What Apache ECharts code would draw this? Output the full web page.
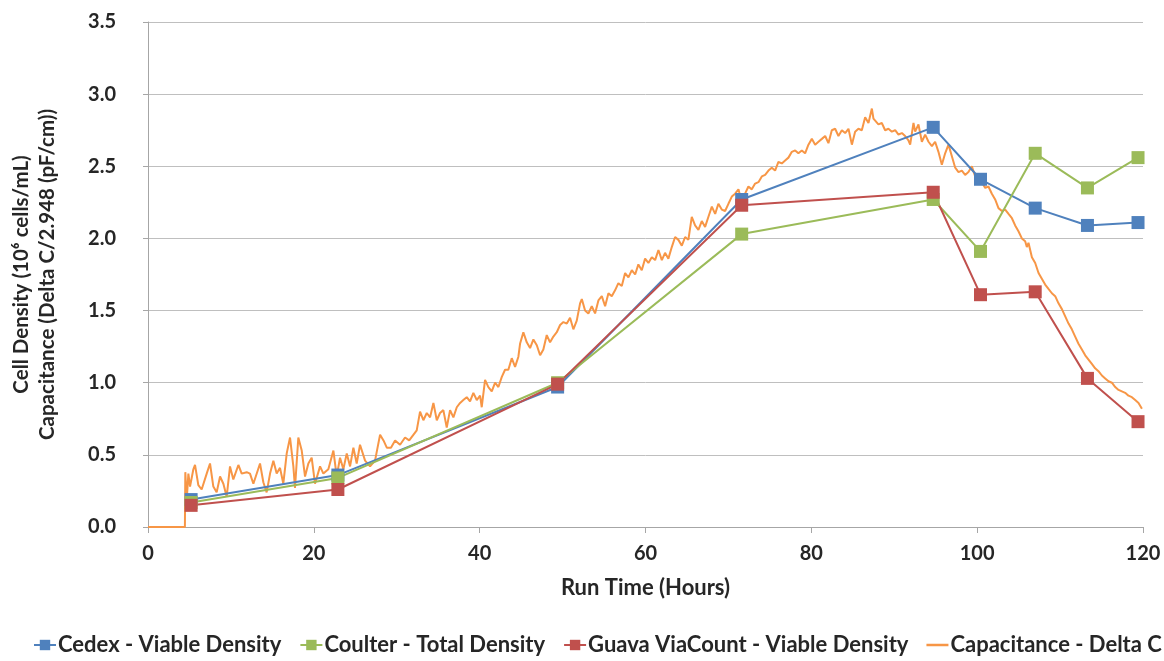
<!DOCTYPE html>
<html>
<head>
<meta charset="utf-8">
<script src="https://cdn.jsdelivr.net/npm/echarts@6/dist/echarts.min.js"></script>
<style>
html,body{margin:0;padding:0;background:#fff;}
#chart{width:1164px;height:661px;}
</style>
</head>
<body>
<div id="chart"></div>
<script>
// Sample times (hours) for the offline counts
const sampleHours = [5.2, 22.9, 49.4, 71.6, 94.7, 100.4, 107.0, 113.3, 119.4];
const cedexViable = [0.19, 0.36, 0.97, 2.27, 2.77, 2.41, 2.21, 2.09, 2.11];
const coulterTotal = [0.17, 0.34, 1.00, 2.03, 2.27, 1.91, 2.59, 2.35, 2.56];
const guavaViable = [0.15, 0.26, 0.99, 2.23, 2.32, 1.61, 1.63, 1.03, 0.73];

// Capacitance online trace (hours, value)
const capHours = [0, 4.45, 4.5, 4.67, 4.87, 5.07, 5.47, 5.67, 6.07, 6.47, 7.08, 7.48, 7.88, 8.28, 8.69, 9.09, 9.49, 9.89, 10.29, 10.9, 11.3, 11.9, 12.3, 12.71, 13.51, 13.91, 14.31, 14.72, 15.12, 15.52, 15.92, 16.32, 16.73, 17.13, 17.53, 17.73, 18.13, 18.54, 18.94, 19.34, 19.74, 20.14, 20.75, 21.15, 21.75, 22.36, 22.76, 23.16, 23.56, 23.97, 24.37, 24.77, 25.17, 25.57, 26.18, 26.78, 27.38, 27.99, 28.4, 28.8, 29.3, 29.8, 30.4, 31.0, 31.5, 32.41, 32.81, 33.21, 33.62, 34.02, 34.42, 34.83, 35.22, 35.62, 36.03, 36.43, 36.83, 37.24, 37.64, 38.03, 38.44, 38.84, 39.24, 39.65, 40.05, 40.25, 40.65, 41.05, 41.46, 41.86, 42.26, 42.67, 43.06, 43.46, 43.87, 44.27, 44.67, 44.87, 45.27, 45.68, 46.08, 46.48, 46.89, 47.29, 47.68, 48.09, 48.49, 48.89, 49.3, 49.7, 50.1, 50.51, 50.9, 51.3, 51.71, 52.11, 52.32, 52.71, 53.11, 53.52, 53.92, 54.32, 54.73, 55.13, 55.53, 55.93, 56.33, 56.73, 57.14, 57.54, 57.94, 58.35, 58.75, 59.14, 59.55, 59.95, 60.35, 60.76, 61.16, 61.56, 61.97, 62.36, 62.76, 63.17, 63.57, 63.97, 64.38, 64.78, 65.17, 65.58, 65.98, 66.38, 66.79, 67.19, 67.59, 68.0, 68.4, 68.79, 69.2, 69.6, 70.0, 70.41, 70.81, 71.21, 71.62, 72.01, 72.41, 72.82, 73.22, 73.62, 74.03, 74.43, 74.83, 75.23, 75.63, 76.03, 76.44, 76.84, 77.24, 77.65, 78.05, 78.44, 78.85, 79.25, 79.65, 80.06, 80.46, 80.86, 81.27, 81.67, 82.06, 82.47, 82.87, 83.27, 83.68, 84.08, 84.48, 84.89, 85.28, 85.68, 86.09, 86.49, 86.89, 87.3, 87.49, 87.7, 88.09, 88.5, 88.9, 89.3, 89.71, 90.11, 90.51, 90.92, 91.31, 91.71, 91.92, 92.32, 92.52, 92.92, 93.33, 93.73, 94.13, 94.54, 94.93, 95.33, 95.74, 96.14, 96.54, 96.95, 97.35, 97.75, 98.15, 98.55, 98.95, 99.36, 99.76, 100.16, 100.57, 100.97, 101.36, 101.77, 102.17, 102.57, 102.98, 103.38, 103.78, 104.19, 104.58, 104.98, 105.39, 105.79, 105.99, 106.19, 106.6, 107.0, 107.4, 107.8, 108.2, 108.6, 109.01, 109.41, 109.81, 110.22, 110.62, 111.02, 111.42, 111.82, 112.22, 112.63, 113.03, 113.43, 113.83, 114.23, 114.63, 115.04, 115.44, 115.84, 116.25, 116.65, 117.05, 117.45, 117.85, 118.25, 118.66, 119.06, 119.46, 119.87];
const capValues = [0, 0, 0.38, 0.19, 0.37, 0.28, 0.40, 0.43, 0.29, 0.26, 0.37, 0.44, 0.28, 0.24, 0.35, 0.30, 0.21, 0.42, 0.33, 0.43, 0.37, 0.38, 0.37, 0.30, 0.44, 0.31, 0.24, 0.37, 0.46, 0.37, 0.41, 0.30, 0.51, 0.62, 0.42, 0.27, 0.62, 0.53, 0.35, 0.44, 0.48, 0.30, 0.42, 0.37, 0.40, 0.53, 0.35, 0.48, 0.40, 0.51, 0.42, 0.55, 0.44, 0.57, 0.46, 0.42, 0.46, 0.64, 0.60, 0.55, 0.55, 0.60, 0.57, 0.62, 0.60, 0.67, 0.80, 0.74, 0.79, 0.76, 0.86, 0.74, 0.79, 0.81, 0.69, 0.81, 0.76, 0.83, 0.86, 0.88, 0.90, 0.87, 0.93, 0.88, 0.91, 0.83, 1.02, 0.97, 0.94, 1.00, 0.97, 1.04, 1.09, 1.09, 1.17, 1.11, 1.18, 1.27, 1.35, 1.28, 1.24, 1.30, 1.26, 1.19, 1.23, 1.33, 1.28, 1.32, 1.35, 1.40, 1.42, 1.41, 1.45, 1.37, 1.43, 1.55, 1.58, 1.50, 1.48, 1.53, 1.48, 1.57, 1.60, 1.53, 1.62, 1.60, 1.64, 1.69, 1.67, 1.76, 1.73, 1.78, 1.75, 1.82, 1.78, 1.86, 1.83, 1.87, 1.85, 1.92, 1.85, 1.90, 1.86, 1.94, 2.01, 1.99, 1.95, 2.01, 1.99, 2.15, 2.09, 2.06, 2.12, 2.08, 2.15, 2.22, 2.17, 2.24, 2.20, 2.19, 2.24, 2.29, 2.31, 2.34, 2.25, 2.31, 2.36, 2.34, 2.38, 2.39, 2.43, 2.44, 2.47, 2.49, 2.47, 2.53, 2.52, 2.54, 2.56, 2.60, 2.61, 2.59, 2.61, 2.59, 2.65, 2.69, 2.65, 2.67, 2.69, 2.71, 2.66, 2.75, 2.76, 2.71, 2.75, 2.73, 2.76, 2.65, 2.74, 2.76, 2.75, 2.84, 2.80, 2.90, 2.83, 2.84, 2.79, 2.80, 2.75, 2.76, 2.74, 2.75, 2.72, 2.73, 2.71, 2.68, 2.65, 2.80, 2.74, 2.79, 2.67, 2.72, 2.67, 2.64, 2.67, 2.60, 2.51, 2.59, 2.65, 2.57, 2.49, 2.46, 2.47, 2.44, 2.46, 2.50, 2.43, 2.42, 2.39, 2.35, 2.36, 2.31, 2.27, 2.21, 2.19, 2.20, 2.17, 2.14, 2.09, 2.05, 2.00, 1.98, 1.94, 1.97, 1.87, 1.83, 1.76, 1.72, 1.68, 1.65, 1.62, 1.60, 1.55, 1.51, 1.46, 1.41, 1.37, 1.32, 1.27, 1.23, 1.19, 1.16, 1.13, 1.10, 1.08, 1.05, 1.03, 1.01, 1.00, 0.97, 0.95, 0.94, 0.93, 0.91, 0.90, 0.88, 0.86, 0.82];

const seriesNames = ['Cedex - Viable Density', 'Coulter - Total Density', 'Guava ViaCount - Viable Density', 'Capacitance - Delta C'];
const xAxisTitle = 'Run Time (Hours)';
const yAxisTitle = 'Cell Density (10\u2076 cells/mL)\nCapacitance (Delta C/2.948 (pF/cm))';

const zip = (xs, ys) => xs.map((x, i) => [x, ys[i]]);
const FONT = 'Lato, "Open Sans", sans-serif';
const TXT = '#262626';

function countSeries(name, vals, color) {
  return {
    name: name, type: 'line', data: zip(sampleHours, vals),
    symbol: 'rect', symbolSize: 13, showSymbol: true,
    lineStyle: { color: color, width: 2 },
    itemStyle: { color: color, borderWidth: 0 },
    z: 3
  };
}

const chart = echarts.init(document.getElementById('chart'), null, { renderer: 'canvas' });
chart.setOption({
  animation: false,
  backgroundColor: '#ffffff',
  grid: { left: 148, right: 21, top: 22, bottom: 134, containLabel: false },
  legend: {
    bottom: 0, left: 28, width: 1400, padding: 5,
    itemWidth: 22, itemHeight: 13, itemGap: 18,
    textStyle: { fontFamily: FONT, fontSize: 22, fontWeight: 'bold', color: TXT, padding: [0, 0, 0, -3] },
    data: [
      { name: seriesNames[0] },
      { name: seriesNames[1] },
      { name: seriesNames[2] },
      { name: seriesNames[3], icon: 'path://M0,0 L88,0 L88,10 L0,10 Z' }
    ]
  },
  xAxis: {
    type: 'value', min: 0, max: 120, interval: 20,
    name: xAxisTitle, nameLocation: 'middle', nameGap: 50,
    nameTextStyle: { fontFamily: FONT, fontSize: 22, fontWeight: 'bold', color: TXT },
    axisLine: { show: true, lineStyle: { color: '#a6a6a6', width: 1 } },
    axisTick: { show: true, length: 6, lineStyle: { color: '#a6a6a6' } },
    axisLabel: { fontFamily: FONT, fontSize: 20, fontWeight: 'bold', color: TXT, margin: 17 },
    splitLine: { show: false }
  },
  yAxis: {
    type: 'value', min: 0, max: 3.5, interval: 0.5,
    name: yAxisTitle, nameLocation: 'middle', nameGap: 88, nameRotate: 90,
    nameTextStyle: { fontFamily: FONT, fontSize: 20.5, fontWeight: 'bold', color: TXT, lineHeight: 26, align: 'center' },
    axisLine: { show: true, lineStyle: { color: '#a6a6a6', width: 1 } },
    axisTick: { show: true, length: 5, lineStyle: { color: '#a6a6a6' } },
    axisLabel: { fontFamily: FONT, fontSize: 20, fontWeight: 'bold', color: TXT, margin: 32,
      formatter: v => v.toFixed(1) },
    splitLine: { show: true, lineStyle: { color: '#bfbfbf', width: 1 } }
  },
  series: [
    countSeries(seriesNames[0], cedexViable, '#4F81BD'),
    countSeries(seriesNames[1], coulterTotal, '#9BBB59'),
    countSeries(seriesNames[2], guavaViable, '#C0504D'),
    {
      name: seriesNames[3], type: 'line', data: zip(capHours, capValues),
      symbol: 'none', showSymbol: false,
      lineStyle: { color: '#F79646', width: 2 },
      itemStyle: { color: '#F79646' },
      z: 2
    }
  ]
});
</script>
</body>
</html>
